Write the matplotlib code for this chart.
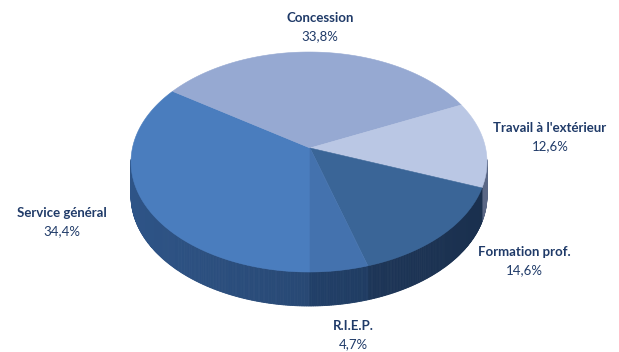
import numpy as np
import matplotlib
matplotlib.use("Agg")
import matplotlib.pyplot as plt
from matplotlib.patches import Polygon
from matplotlib.colors import to_rgb

# slices, clockwise starting from 6 o'clock
labels = ["Service général", "Concession", "Travail à l'extérieur", "Formation prof.", "R.I.E.P."]
values = [34.4, 33.8, 12.6, 14.6, 4.7]
top_colors = ["#4A7DBE", "#96A9D2", "#BAC7E4", "#3A6597", "#4472AE"]
side_colors = ["#2E5487", "#5E72A0", "#7D8FB8", "#24426C", "#274A79"]

# label text placement (pixel coords)
label_pos = [(62, 213), (320, 18), (550, 128), (524, 252), (353, 326)]

W, H = 619, 352
cx, cy = 309, 162        # ellipse centre
rx, ry = 178, 110        # radii of the top face
apex = np.array([310.0, 148.0])   # where the slices meet (perspective)
depth = 34


def rim(t):
    """Point on the top ellipse hit by the ray from the apex at angle t."""
    t = np.radians(np.atleast_1d(t))
    dx, dy = rx * np.cos(t), -ry * np.sin(t)
    ox, oy = apex[0] - cx, apex[1] - cy
    a = (dx / rx) ** 2 + (dy / ry) ** 2
    b = 2 * (ox * dx / rx ** 2 + oy * dy / ry ** 2)
    c = (ox / rx) ** 2 + (oy / ry) ** 2 - 1
    s = (-b + np.sqrt(b * b - 4 * a * c)) / (2 * a)
    return apex[0] + s * dx, apex[1] + s * dy


fig = plt.figure(figsize=(W / 100, H / 100), dpi=100)
ax = fig.add_axes([0, 0, 1, 1])
ax.set_xlim(0, W)
ax.set_ylim(H, 0)
ax.axis("off")

fracs = np.array(values) / sum(values)
bounds = 270 - np.concatenate([[0], np.cumsum(fracs)]) * 360

# side walls of the front half
for i in range(len(values)):
    t0, t1 = bounds[i], bounds[i + 1]
    n = max(int(abs(t0 - t1) * 2), 2)
    xs, ys = rim(np.linspace(t0, t1, n + 1))
    base = np.array(to_rgb(side_colors[i]))
    for k in range(n):
        xm, ym = (xs[k] + xs[k + 1]) / 2, (ys[k] + ys[k + 1]) / 2
        phi = np.arctan2(-(ym - cy) / ry, (xm - cx) / rx)
        if np.sin(phi) > 0.02:
            continue
        f = 0.86 - 0.14 * np.cos(phi)
        col = np.clip(base * f, 0, 1)
        quad = [(xs[k], ys[k]), (xs[k + 1], ys[k + 1]),
                (xs[k + 1], ys[k + 1] + depth), (xs[k], ys[k] + depth)]
        ax.add_patch(Polygon(quad, closed=True, facecolor=col, edgecolor=col, lw=0.6))

# top faces
for i in range(len(values)):
    xs, ys = rim(np.linspace(bounds[i], bounds[i + 1], 150))
    pts = [tuple(apex)] + list(zip(xs, ys))
    ax.add_patch(Polygon(pts, closed=True, facecolor=top_colors[i],
                         edgecolor=top_colors[i], lw=0.4))

txt_col = "#1F3A68"
for lab, v, (x, y) in zip(labels, values, label_pos):
    ax.text(x, y, lab, ha="center", va="center", fontsize=9.5, fontweight="bold",
            family="Lato", color=txt_col)
    ax.text(x, y + 18.5, f"{v:.1f}%".replace(".", ","), ha="center", va="center",
            fontsize=9.5, family="Lato", color=txt_col)

fig.savefig("out.png", dpi=100, facecolor="white")
